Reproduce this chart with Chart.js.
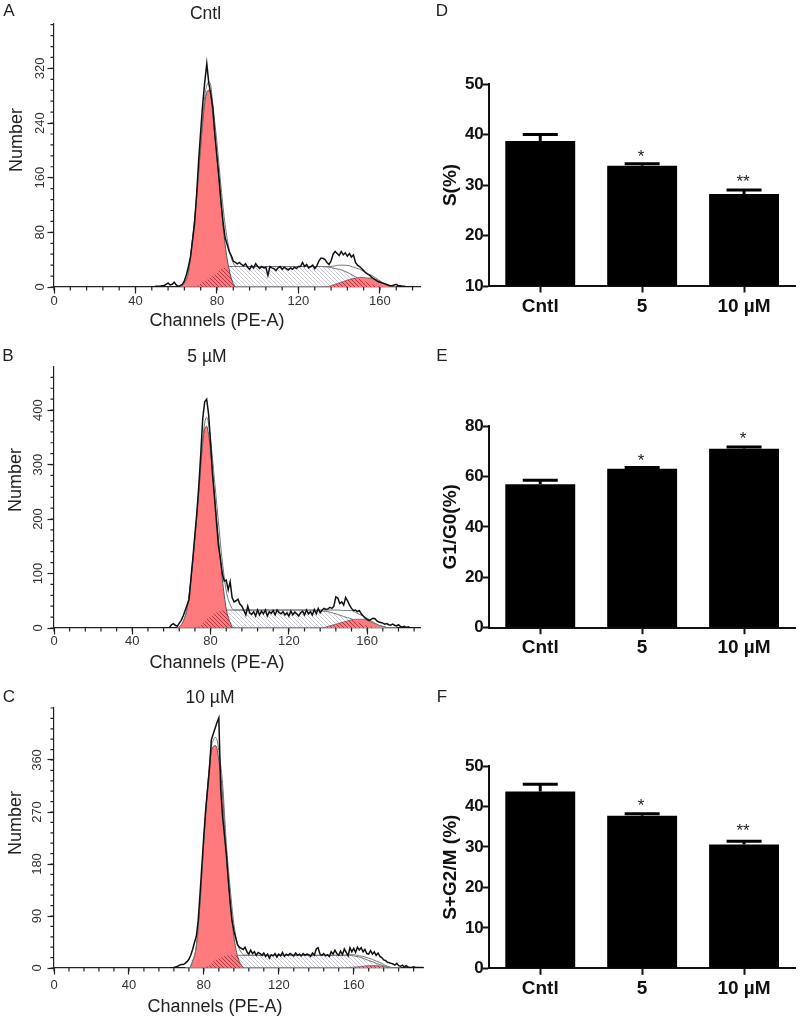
<!DOCTYPE html>
<html>
<head>
<meta charset="utf-8">
<title>Cell cycle</title>
<script src="https://cdn.jsdelivr.net/npm/chart.js@4"></script>
<style>
  html, body { margin: 0; padding: 0; background: #fff; }
  canvas { position: absolute; display: block; }
</style>
</head>
<body>
<canvas id="panelA" width="430" height="335" style="left:0;top:0"></canvas>
<canvas id="panelB" width="430" height="335" style="left:0;top:340px"></canvas>
<canvas id="panelC" width="430" height="345" style="left:0;top:680px"></canvas>
<canvas id="panelD" width="370" height="330" style="left:430px;top:0"></canvas>
<canvas id="panelE" width="370" height="330" style="left:430px;top:340px"></canvas>
<canvas id="panelF" width="370" height="340" style="left:430px;top:680px"></canvas>
<script>
// ==========================
// HISTOGRAMS (A, B, C)
// raw curves hold one value per channel, from the start channel on
// ==========================
const xTicksHist = [0, 40, 80, 120, 160];

const yTicksA = [0, 80, 160, 240, 320];
const rawStartA = 48;
const rawA = [0,0,1,1,1,2,2,4,6,3,4,7,3,1,2,4,9,18,30,44,68,93,135,185,228,268,300,327,298,282,262,222,190,160,125,95,72,62,52,46,38,36,34,
  36,33,31,34,29,26,31,28,34,30,27,30,28,29,17,30,28,27,24,28,30,26,29,27,25,28,26,29,27,30,
  30,36,30,33,28,30,32,27,31,38,42,42,40,36,33,38,48,52,49,46,52,47,50,45,49,44,47,36,32,30,27,24,21,19,17,14,12,10,8,7,6,5,4,3,2,2,3,4,2,2,1,1,0,0,0];
const fitChA = [62,64,66,68,70,72,74,75,76,77,78,80,82,84,86,88,90,92,95,100,110,120,130,135,138,140,142,145,148,150,152,154,156,158,160,162,164,166,168];
const g1A =    [0,6,22,70,130,205,270,285,288,280,250,190,120,62,25,5,0,0,0,0,0,0,0,0,0,0,0,0,0,0,0,0,0,0,0,0,0,0,0];
const sA =     [0,0,0,1,2,5,9,10,12,14,16,21,26,29,30,30,30,30,30,30,30,30,30,29,27,26,24,20,15,12,9,6,4,2,1,0,0,0,0];
const g2A =    [0,0,0,0,0,0,0,0,0,0,0,0,0,0,0,0,0,0,0,0,0,0,0,1,4,6,8,11,13,14,14,13,13,11,8,5,2,1,0];
const fitA =   [0,6,22,71,132,210,279,295,300,294,266,211,146,91,55,35,30,30,30,30,30,30,30,30,31,32,32,31,28,26,23,19,17,13,9,5,2,1,0];

const yTicksB = [0, 100, 200, 300, 400];
const rawStartB = 57;
const rawB = [0,0,1,6,8,5,3,9,14,22,32,42,52,92,130,172,212,262,320,385,415,420,392,340,282,240,195,152,128,100,86,88,70,85,56,48,50,53,44,40,32,24,40,28,
  25,30,22,33,24,31,26,33,22,30,27,32,24,33,28,26,30,24,28,22,31,24,29,26,22,28,31,24,33,26,30,24,34,26,36,
  28,33,36,34,35,38,36,40,57,55,45,48,42,56,50,42,36,32,33,30,32,26,22,18,16,14,16,18,17,13,11,10,9,7,8,6,5,7,5,4,6,3,2,3,1,2,0,0];
const fitChB = [63,64,66,68,70,72,74,76,77,78,79,80,82,84,86,88,90,92,95,100,110,120,130,137,140,142,145,148,150,152,154,156,158,160,162,164,166,168,170,172,175];
const g1B =    [0,2,12,36,90,165,250,340,365,370,355,325,245,165,90,35,10,0,0,0,0,0,0,0,0,0,0,0,0,0,0,0,0,0,0,0,0,0,0,0,0];
const sB =     [0,0,0,0,0,1,3,8,11,17,19,21,27,30,32,33,33,33,33,33,33,33,33,31,30,28,25,21,19,17,13,9,6,4,2,1,0,0,0,0,0];
const g2B =    [0,0,0,0,0,0,0,0,0,0,0,0,0,0,0,0,0,0,0,0,0,0,0,0,3,5,8,11,13,15,16,16,16,14,11,8,5,3,1,0,0];
const fitB =   [0,2,12,36,90,166,253,348,376,387,374,346,272,195,122,68,43,33,33,33,33,33,33,33,33,33,33,32,32,32,29,25,22,18,13,9,5,3,1,0,0];

const yTicksC = [0, 90, 180, 270, 360];
const rawStartC = 62;
const rawC = [0,0,1,2,3,5,6,6,8,11,15,22,32,44,55,83,130,180,230,275,310,345,395,405,415,425,433,310,262,230,198,155,115,83,65,52,40,36,34,
  32,36,28,24,31,25,28,22,27,25,22,26,20,24,17,23,21,25,19,24,21,27,20,24,22,25,23,21,26,22,24,21,25,22,24,23,20,26,22,33,
  35,24,22,25,21,23,20,28,24,31,25,22,29,23,33,27,21,35,28,34,27,36,31,35,28,32,25,24,30,24,28,22,26,20,18,14,13,10,9,8,7,5,8,4,3,5,2,4,2,1,1,2,1,1,1,1,1];
const fitChC = [70,72,74,76,78,80,82,84,85,86,87,88,90,92,94,96,98,100,102,105,110,120,130,140,150,155,158,160,163,165,168,170,172,175,178,180,183,185];
const g1C =    [0,0,12,38,115,220,310,375,383,385,380,360,300,195,118,55,20,5,0,0,0,0,0,0,0,0,0,0,0,0,0,0,0,0,0,0,0,0];
const sC =     [0,0,0,0,0,1,4,8,11,14,15,16,19,21,22,22,22,22,22,22,22,22,22,22,22,22,22,21,19,17,13,11,8,5,2,1,0,0];
const g2C =    [0,0,0,0,0,0,0,0,0,0,0,0,0,0,0,0,0,0,0,0,0,0,0,0,0,0,1,1.5,2,3,4,4,4,3,1,0,0,0];
const fitC =   [0,0,12,38,115,221,314,383,394,399,395,376,319,216,140,77,42,27,22,22,22,22,22,22,22,22,23,23,21,20,17,15,12,8,3,1,0,0];

// ==========================
// BAR PANELS (D, E, F)
// ==========================
const doses = ["Cntl", "5", "10 µM"];

const yTicksD = [10, 20, 30, 40, 50];
const valuesD = [38.7, 33.8, 28.2];
const errorsD = [40.0, 34.2, 29.0];
const starsD = ["", "*", "**"];
const starLevelD = [0, 36.4, 31.4];

const yTicksE = [0, 20, 40, 60, 80];
const valuesE = [56.9, 63.0, 71.0];
const errorsE = [58.5, 63.5, 71.7];
const starsE = ["", "*", "*"];
const starLevelE = [0, 67.6, 76.4];

const yTicksF = [0, 10, 20, 30, 40, 50];
const valuesF = [43.7, 37.7, 30.6];
const errorsF = [45.5, 38.2, 31.4];
const starsF = ["", "*", "**"];
const starLevelF = [0, 41, 34.8];

const FONT = '"Liberation Sans", Arial, sans-serif';
const RED = "#ff7a7c";

/* =======================================================
   PLUGINS
======================================================= */
// texte libre : lettre du panneau, titre, noms d'axes
const panelTextPlugin = {
  id: "panelText",
  afterDraw(chart, args, opts) {
    const ctx = chart.ctx;
    (opts.items || []).forEach((t) => {
      ctx.save();
      ctx.translate(t.x, t.y);
      if (t.rotate) ctx.rotate(t.rotate);
      ctx.font = t.font;
      ctx.fillStyle = t.color || "#222";
      ctx.textAlign = "center";
      ctx.textBaseline = "middle";
      ctx.fillText(t.text, 0, 0);
      ctx.restore();
    });
  },
};

// petites graduations, plus courtes que celles de Chart.js
const minorTicksPlugin = {
  id: "minorTicks",
  afterDraw(chart, args, opts) {
    if (!opts.x) return;
    const ctx = chart.ctx;
    const { x, y } = chart.scales;
    ctx.save();
    ctx.strokeStyle = "#222";
    ctx.lineWidth = 1.2;
    ctx.beginPath();
    for (let v = 0; v <= x.max; v += opts.x) {
      const px = x.getPixelForValue(v);
      ctx.moveTo(px, y.bottom);
      ctx.lineTo(px, y.bottom + 3.5);
    }
    for (let v = 0; v <= y.max; v += opts.y) {
      const py = y.getPixelForValue(v);
      ctx.moveTo(x.left, py);
      ctx.lineTo(x.left - 3.5, py);
    }
    ctx.stroke();
    ctx.restore();
  },
};

// barres d'erreur (haut seulement) et étoiles
const errorBarsPlugin = {
  id: "errorBars",
  afterDatasetsDraw(chart, args, opts) {
    if (!opts.errors) return;
    const ctx = chart.ctx;
    const { x, y } = chart.scales;
    ctx.save();
    ctx.strokeStyle = "#000";
    ctx.lineWidth = 3;
    opts.errors.forEach((err, i) => {
      const px = x.getPixelForValue(i);
      const top = y.getPixelForValue(err);
      ctx.beginPath();
      ctx.moveTo(px, y.getPixelForValue(opts.values[i]));
      ctx.lineTo(px, top);
      ctx.moveTo(px - 17.5, top);
      ctx.lineTo(px + 17.5, top);
      ctx.stroke();
    });
    ctx.fillStyle = "#222";
    ctx.font = "17px " + FONT;
    ctx.textAlign = "center";
    ctx.textBaseline = "alphabetic";
    opts.stars.forEach((s, i) => {
      if (s) ctx.fillText(s, x.getPixelForValue(i) - 1, y.getPixelForValue(opts.starLevels[i]) + 9);
    });
    ctx.restore();
  },
};

/* =======================================================
   HACHURES
======================================================= */
function hatch(bg, fg) {
  const s = 4;
  const c = document.createElement("canvas");
  c.width = s;
  c.height = s;
  const g = c.getContext("2d");
  if (bg) {
    g.fillStyle = bg;
    g.fillRect(0, 0, s, s);
  }
  g.strokeStyle = fg;
  g.lineWidth = 0.9;
  g.beginPath();
  g.moveTo(-1, -1);
  g.lineTo(s + 1, s + 1);
  g.moveTo(-1, s - 1);
  g.lineTo(1, s + 1);
  g.moveTo(s - 1, -1);
  g.lineTo(s + 1, 1);
  g.stroke();
  return g.createPattern(c, "repeat");
}

function toPoints(channels, values) {
  return values.map((v, i) => ({ x: channels[i], y: v }));
}

function rawPoints(start, values) {
  return values.map((v, i) => ({ x: start + i, y: v }));
}

function curve(points, extra) {
  return Object.assign(
    { data: points, pointRadius: 0, borderWidth: 1, borderColor: "#666", fill: false, cubicInterpolationMode: "monotone" },
    extra
  );
}

/* =======================================================
   HISTOGRAMME
======================================================= */
function drawHistogram(id, p) {
  const lightHatch = hatch("#ffffff", "#c6c6d6");
  const darkHatch = hatch(null, "#a5303c");
  const overlapG1 = p.s.map((v, i) => Math.min(v, p.g1[i]));
  const overlapG2 = p.s.map((v, i) => Math.min(v, p.g2[i]));

  new Chart(document.getElementById(id), {
    type: "line",
    data: {
      datasets: [
        curve(rawPoints(p.rawStart, p.raw), { borderColor: "#111", borderWidth: 1.5, cubicInterpolationMode: "default", tension: 0 }),
        curve(toPoints(p.channels, p.fit), { borderColor: "#777" }),
        curve(toPoints(p.channels, overlapG2), { fill: "origin", backgroundColor: darkHatch, borderWidth: 0 }),
        curve(toPoints(p.channels, overlapG1), { fill: "origin", backgroundColor: darkHatch, borderWidth: 0 }),
        curve(toPoints(p.channels, p.g2), { fill: "origin", backgroundColor: RED, borderColor: "#777" }),
        curve(toPoints(p.channels, p.g1), { fill: "origin", backgroundColor: RED, borderColor: "#555" }),
        curve(toPoints(p.channels, p.s), { fill: "origin", backgroundColor: lightHatch, borderColor: "#777" }),
      ],
    },
    options: {
      responsive: false,
      animation: false,
      layout: { padding: { left: 0, right: p.padRight, top: p.padTop, bottom: 0 } },
      scales: {
        x: {
          type: "linear",
          min: 0,
          max: p.xMax,
          afterBuildTicks: (s) => { s.ticks = xTicksHist.map((v) => ({ value: v })); },
          afterFit: (s) => { s.height = p.xHeight; },
          border: { color: "#222", width: 1.2 },
          grid: { drawOnChartArea: false, tickLength: 6.5, tickColor: "#222", tickWidth: 1.2 },
          ticks: { color: "#333", font: { family: FONT, size: 13 }, padding: p.xLabelPad, maxRotation: 0, autoSkip: false },
        },
        y: {
          min: 0,
          max: p.yMax,
          afterBuildTicks: (s) => { s.ticks = p.yTicks.map((v) => ({ value: v })); },
          afterFit: (s) => { s.width = 54; },
          border: { color: "#222", width: 1.2 },
          grid: { drawOnChartArea: false, tickLength: 6.5, tickColor: "#222", tickWidth: 1.2 },
          ticks: { color: "#333", font: { family: FONT, size: 13 }, padding: p.yLabelPad, minRotation: 90, maxRotation: 90, crossAlign: "center", autoSkip: false },
        },
      },
      plugins: {
        legend: { display: false },
        tooltip: { enabled: false },
        minorTicks: { x: 8, y: p.yMinor },
        panelText: { items: p.texts },
      },
    },
    plugins: [minorTicksPlugin, panelTextPlugin],
  });
}

/* =======================================================
   BARRES
======================================================= */
function drawBars(id, p) {
  new Chart(document.getElementById(id), {
    type: "bar",
    data: {
      labels: doses,
      datasets: [{ data: p.values, backgroundColor: "#000", barPercentage: 0.686, categoryPercentage: 1 }],
    },
    options: {
      responsive: false,
      animation: false,
      layout: { padding: { left: 0, right: 5, top: p.padTop, bottom: 0 } },
      scales: {
        x: {
          afterFit: (s) => { s.height = p.xHeight; },
          border: { color: "#111", width: 2 },
          grid: { offset: false, drawOnChartArea: false, tickLength: 6.5, tickColor: "#111", tickWidth: 2 },
          ticks: { color: "#111", font: { family: FONT, size: 19, weight: "bold" }, padding: 2.5, maxRotation: 0 },
        },
        y: {
          min: p.yTicks[0],
          max: p.yTicks[p.yTicks.length - 1],
          afterBuildTicks: (s) => { s.ticks = p.yTicks.map((v) => ({ value: v })); },
          afterFit: (s) => { s.width = 59.3; },
          border: { color: "#111", width: 2 },
          grid: { drawOnChartArea: false, tickLength: 6.5, tickColor: "#111", tickWidth: 2 },
          ticks: { color: "#111", font: { family: FONT, size: 17, weight: "bold" }, padding: -1 },
          title: { display: true, text: p.yTitle, color: "#111", font: { family: FONT, size: 19, weight: "bold" }, padding: { top: 9, bottom: 0 } },
        },
      },
      plugins: {
        legend: { display: false },
        tooltip: { enabled: false },
        errorBars: { values: p.values, errors: p.errors, stars: p.stars, starLevels: p.starLevels },
        panelText: { items: p.texts },
      },
    },
    plugins: [errorBarsPlugin, panelTextPlugin],
  });
}

/* =======================================================
   INIT
======================================================= */
const LETTER = "17px " + FONT;
const TITLE = "17.5px " + FONT;
const AXIS = "18px " + FONT;
const UP = -Math.PI / 2;

drawHistogram("panelA", {
  rawStart: rawStartA, raw: rawA, channels: fitChA, g1: g1A, s: sA, g2: g2A, fit: fitA,
  yTicks: yTicksA, yMinor: 16, xMax: 180, yMax: 385, padRight: 9.3, padTop: 24, xHeight: 48, yLabelPad: -4, xLabelPad: 0,
  texts: [
    { text: "A", x: 9, y: 11, font: LETTER },
    { text: "Cntl", x: 205.5, y: 14, font: TITLE },
    { text: "Number", x: 17, y: 140, rotate: UP, font: AXIS },
    { text: "Channels (PE-A)", x: 217, y: 321, font: AXIS },
  ],
});

drawHistogram("panelB", {
  rawStart: rawStartB, raw: rawB, channels: fitChB, g1: g1B, s: sB, g2: g2B, fit: fitB,
  yTicks: yTicksB, yMinor: 20, xMax: 187, yMax: 479, padRight: 10, padTop: 27, xHeight: 47, yLabelPad: -2, xLabelPad: -1,
  texts: [
    { text: "B", x: 8, y: 16, font: LETTER },
    { text: "5 µM", x: 207, y: 17, font: TITLE },
    { text: "Number", x: 16, y: 140, rotate: UP, font: AXIS },
    { text: "Channels (PE-A)", x: 217, y: 323, font: AXIS },
  ],
});

drawHistogram("panelC", {
  rawStart: rawStartC, raw: rawC, channels: fitChC, g1: g1C, s: sC, g2: g2C, fit: fitC,
  yTicks: yTicksC, yMinor: 18, xMax: 197, yMax: 450, padRight: 7, padTop: 28, xHeight: 57, yLabelPad: -1, xLabelPad: 3,
  texts: [
    { text: "C", x: 9, y: 17, font: LETTER },
    { text: "10 µM", x: 210, y: 18, font: TITLE },
    { text: "Number", x: 16, y: 143, rotate: UP, font: AXIS },
    { text: "Channels (PE-A)", x: 215, y: 327, font: AXIS },
  ],
});

drawBars("panelD", {
  values: valuesD, errors: errorsD, stars: starsD, starLevels: starLevelD, yTicks: yTicksD,
  yTitle: "S(%)", padTop: 84, xHeight: 44,
  texts: [{ text: "D", x: 12, y: 11, font: LETTER }],
});

drawBars("panelE", {
  values: valuesE, errors: errorsE, stars: starsE, starLevels: starLevelE, yTicks: yTicksE,
  yTitle: "G1/G0(%)", padTop: 86, xHeight: 42.3,
  texts: [{ text: "E", x: 12, y: 16, font: LETTER }],
});

drawBars("panelF", {
  values: valuesF, errors: errorsF, stars: starsF, starLevels: starLevelF, yTicks: yTicksF,
  yTitle: "S+G2/M (%)", padTop: 86, xHeight: 51.7,
  texts: [{ text: "F", x: 12, y: 17, font: LETTER }],
});
</script>
</body>
</html>
